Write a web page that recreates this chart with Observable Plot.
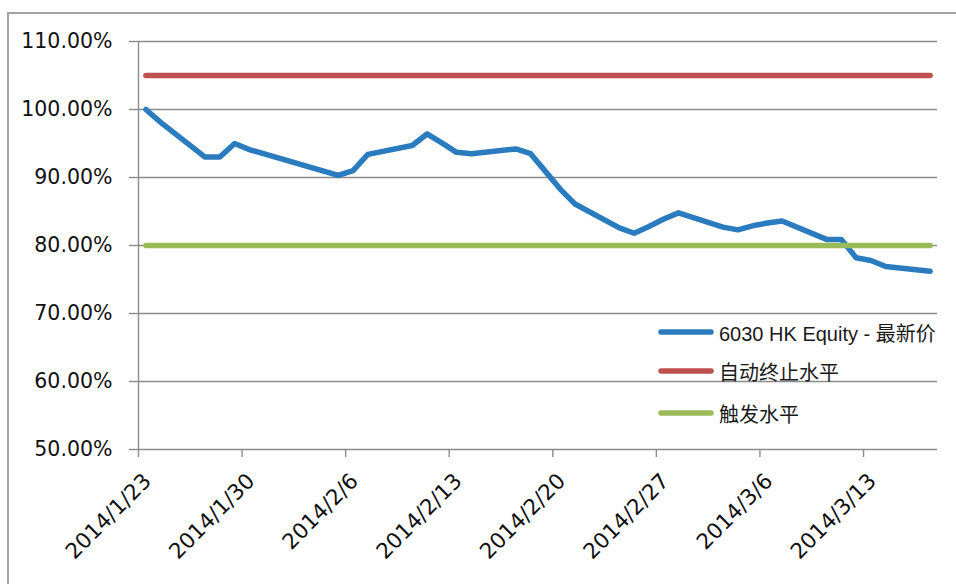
<!DOCTYPE html>
<html><head><meta charset="utf-8">
<script src="https://cdn.jsdelivr.net/npm/d3@7"></script>
<script src="https://cdn.jsdelivr.net/npm/@observablehq/plot@0.6"></script>
<style>
html,body{margin:0;padding:0;background:#fff;overflow:hidden}
#wrap{position:relative;width:956px;height:584px;overflow:hidden;background:#fff}
#frame{position:absolute;left:7px;top:12px;width:1000px;height:700px;border:2px solid #a3a3a3;box-sizing:border-box}
#chart{position:absolute;left:0;top:0}
.leg{position:absolute;left:658px;height:26px;display:flex;align-items:center;font-family:"Liberation Sans","Noto Sans CJK SC",sans-serif;font-size:20px;color:#1a1a1a;white-space:nowrap}
.leg svg{margin-right:5px}
</style></head><body>
<div id="wrap"><div id="frame"></div><div id="chart"></div><div id="legend"></div></div>
<script>
// Data
const dates = ["2014-01-23","2014-01-24","2014-01-27","2014-01-28","2014-01-29","2014-01-30",
  "2014-02-05","2014-02-06","2014-02-07","2014-02-10","2014-02-11","2014-02-12","2014-02-13","2014-02-14",
  "2014-02-17","2014-02-18","2014-02-19","2014-02-20","2014-02-21","2014-02-24","2014-02-25","2014-02-26",
  "2014-02-27","2014-02-28","2014-03-03","2014-03-04","2014-03-05","2014-03-06","2014-03-07","2014-03-10",
  "2014-03-11","2014-03-12","2014-03-13","2014-03-14","2014-03-17"];
const price = [100.0,98.1,93.0,93.0,95.0,94.1,
  90.3,91.0,93.4,94.7,96.4,95.1,93.7,93.5,
  94.2,93.5,90.9,88.3,86.1,82.6,81.8,82.8,
  83.9,84.8,82.7,82.3,82.9,83.3,83.6,80.9,
  80.9,78.2,77.8,76.9,76.2];
const knockOutLevel = 105;   // 自动终止水平
const triggerLevel = 80;     // 触发水平
const tickDates = ["2014-01-23","2014-01-30","2014-02-06","2014-02-13","2014-02-20","2014-02-27","2014-03-06","2014-03-13"];
const yTicks = [50,60,70,80,90,100,110];
const axisStart = "2014-01-23";
const axisEnd = "2014-03-18";
const seriesNames = ["6030 HK Equity - 最新价","自动终止水平","触发水平"];
const seriesColors = ["#2b7bbf","#c0504d","#9bbb59"];

const day = s => new Date(s + "T00:00:00Z");
const slot = s => new Date(s + "T12:00:00Z"); // Excel places points mid-slot between tick marks
const rows = dates.map((d, i) => ({date: slot(d), price: price[i], ko: knockOutLevel, trig: triggerLevel}));
const fmtDate = d => `${d.getUTCFullYear()}/${d.getUTCMonth() + 1}/${d.getUTCDate()}`;
const fmtPct = v => v.toFixed(2) + "%";
const grid = "#8c8c8c";

const chart = Plot.plot({
  width: 956,
  height: 584,
  marginLeft: 138,
  marginRight: 19,
  marginTop: 41,
  marginBottom: 135,
  style: {fontFamily: "DejaVu Sans, sans-serif", fontSize: "20.5px", color: "#111", background: "transparent"},
  x: {type: "utc", domain: [day(axisStart), day(axisEnd)]},
  y: {domain: [50, 110]},
  marks: [
    Plot.gridY(yTicks, {stroke: grid, strokeOpacity: 1, strokeWidth: 1.4}),
    Plot.ruleX([day(axisStart)], {stroke: grid, strokeWidth: 1.4}),
    Plot.axisY(yTicks, {tickFormat: fmtPct, tickSize: 9, tickPadding: 17, stroke: grid, strokeWidth: 1.4, label: null}),
    Plot.axisX(tickDates.map(day), {tickFormat: () => "", tickSize: 8, stroke: grid, strokeWidth: 1.4, label: null}),
    Plot.axisX(tickDates.map(day), {tickFormat: fmtDate, tickSize: 0, tickPadding: 10, tickRotate: -45, dx: 9, dy: 18, fontSize: 21.5, label: null, fill: "#111"}),
    Plot.line(rows, {x: "date", y: "price", stroke: seriesColors[0], strokeWidth: 5.5, strokeLinejoin: "round", strokeLinecap: "round"}),
    Plot.line(rows, {x: "date", y: "ko", stroke: seriesColors[1], strokeWidth: 5.5, strokeLinecap: "round"}),
    Plot.line(rows, {x: "date", y: "trig", stroke: seriesColors[2], strokeWidth: 5.5, strokeLinecap: "round"})
  ]
});
document.getElementById("chart").appendChild(chart);

const legendTops = [319, 358, 400];
const legend = document.getElementById("legend");
seriesNames.forEach((name, i) => {
  const row = document.createElement("div");
  row.className = "leg";
  row.style.top = legendTops[i] + "px";
  row.innerHTML = `<svg width="56" height="8"><line x1="3" y1="4" x2="53" y2="4" stroke="${seriesColors[i]}" stroke-width="5.5" stroke-linecap="round"/></svg><span>${name}</span>`;
  legend.appendChild(row);
});
</script>
</body></html>
